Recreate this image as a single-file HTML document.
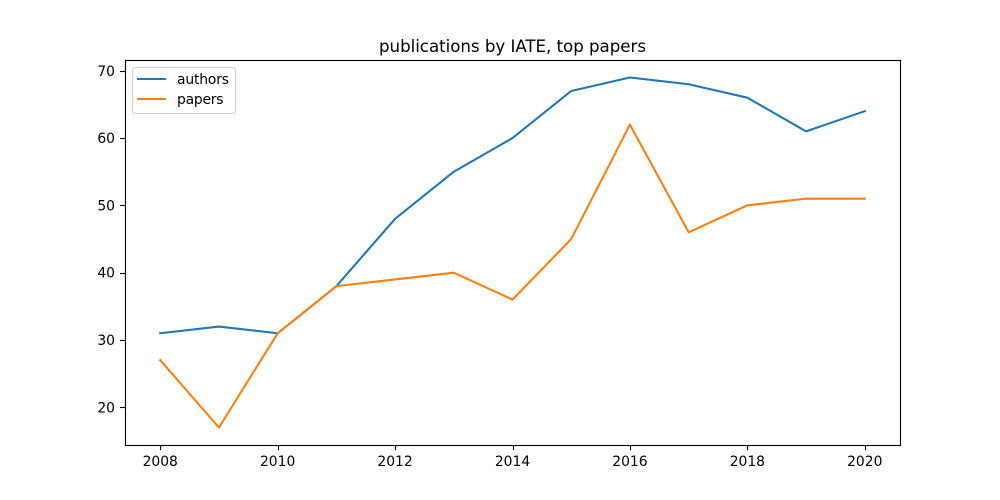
<!DOCTYPE html>
<html lang="en">
<head>
<meta charset="utf-8">
<title>publications by IATE, top papers</title>
<style>
html,body{margin:0;padding:0;background:#fff;width:1000px;height:500px;overflow:hidden}
svg{display:block}
text{font-family:"DejaVu Sans","Liberation Sans",sans-serif;fill:#000}
</style>
</head>
<body>
<svg id="chart" xmlns="http://www.w3.org/2000/svg" width="1000" height="500" viewBox="0 0 1000 500">
  <rect x="0" y="0" width="1000" height="500" fill="#fff"/>
  <text x="379" y="52" textLength="267" lengthAdjust="spacing" font-size="16.67">publications by IATE, top papers</text>
  <g id="series"></g>
  <g id="axes"></g>
  <rect x="125.5" y="60.5" width="775" height="385" fill="none" stroke="#000" stroke-width="1.11"/>
  <g>
    <rect x="132.5" y="67.5" width="103" height="46" rx="3" ry="3" fill="#fff" fill-opacity="0.8" stroke="#ccc" stroke-width="1.11"/>
    <line x1="137" y1="79" x2="166" y2="79" stroke="#1f77b4" stroke-width="2.08"/>
    <text x="177" y="84" textLength="52" lengthAdjust="spacing" font-size="13.89">authors</text>
    <line x1="137" y1="99" x2="166" y2="99" stroke="#ff7f0e" stroke-width="2.08"/>
    <text x="177" y="104" textLength="46.5" lengthAdjust="spacing" font-size="13.89">papers</text>
  </g>
</svg>
<script>
const years = [2008, 2009, 2010, 2011, 2012, 2013, 2014, 2015, 2016, 2017, 2018, 2019, 2020];
const authors = [31, 32, 31, 38, 48, 55, 60, 67, 69, 68, 66, 61, 64];
const papers = [27, 17, 31, 38, 39, 40, 36, 45, 62, 46, 50, 51, 51];
const xTicks = [2008, 2010, 2012, 2014, 2016, 2018, 2020];
const yTicks = [20, 30, 40, 50, 60, 70];

const NS = 'http://www.w3.org/2000/svg';
const plot = { left: 125, right: 900, top: 60, bottom: 445 };

const allValues = authors.concat(papers);
const dataMin = Math.min(...allValues);
const dataMax = Math.max(...allValues);
const yPad = (dataMax - dataMin) * 0.05;
const yMin = dataMin - yPad;
const yMax = dataMax + yPad;
const xFirst = Math.min(...years);
const xLast = Math.max(...years);
const xPad = (xLast - xFirst) * 0.05;
const xMin = xFirst - xPad;
const xMax = xLast + xPad;

function xScale(v) {
  return plot.left + (v - xMin) / (xMax - xMin) * (plot.right - plot.left);
}
function yScale(v) {
  return plot.bottom - (v - yMin) / (yMax - yMin) * (plot.bottom - plot.top);
}

const seriesLayer = document.getElementById('series');
const axesLayer = document.getElementById('axes');

function drawSeries(values, color, name) {
  const line = document.createElementNS(NS, 'polyline');
  
  
  line.setAttribute('points', values.map((v, i) => xScale(years[i]).toFixed(2) + ',' + yScale(v).toFixed(2)).join(' '));
  line.setAttribute('fill', 'none');
  line.setAttribute('stroke', color);
  line.setAttribute('stroke-width', '2.08');
  line.setAttribute('stroke-linejoin', 'round');
  line.setAttribute('stroke-linecap', 'square');
  seriesLayer.appendChild(line);
}
drawSeries(authors, '#1f77b4', 'authors-line');
drawSeries(papers, '#ff7f0e', 'papers-line');

xTicks.forEach(function (t) {
  const px = Math.round(xScale(t)) + 0.5;
  const tick = document.createElementNS(NS, 'line');
  
  
  tick.setAttribute('x1', px);
  tick.setAttribute('x2', px);
  tick.setAttribute('y1', plot.bottom);
  tick.setAttribute('y2', plot.bottom + 5);
  tick.setAttribute('stroke', '#000');
  tick.setAttribute('stroke-width', '1.11');
  axesLayer.appendChild(tick);
  const label = document.createElementNS(NS, 'text');
  
  
  label.setAttribute('x', xScale(t));
  label.setAttribute('y', plot.bottom + 21);
  label.setAttribute('text-anchor', 'middle');
  label.setAttribute('font-size', '13.89');
  label.textContent = String(t);
  axesLayer.appendChild(label);
});

yTicks.forEach(function (t) {
  const py = Math.round(yScale(t)) + 0.5;
  const tick = document.createElementNS(NS, 'line');
  
  
  tick.setAttribute('x1', plot.left - 5);
  tick.setAttribute('x2', plot.left);
  tick.setAttribute('y1', py);
  tick.setAttribute('y2', py);
  tick.setAttribute('stroke', '#000');
  tick.setAttribute('stroke-width', '1.11');
  axesLayer.appendChild(tick);
  const label = document.createElementNS(NS, 'text');
  
  
  label.setAttribute('x', plot.left - 10);
  label.setAttribute('y', yScale(t) + 5);
  label.setAttribute('text-anchor', 'end');
  label.setAttribute('font-size', '13.89');
  label.textContent = String(t);
  axesLayer.appendChild(label);
});
</script>
</body>
</html>
